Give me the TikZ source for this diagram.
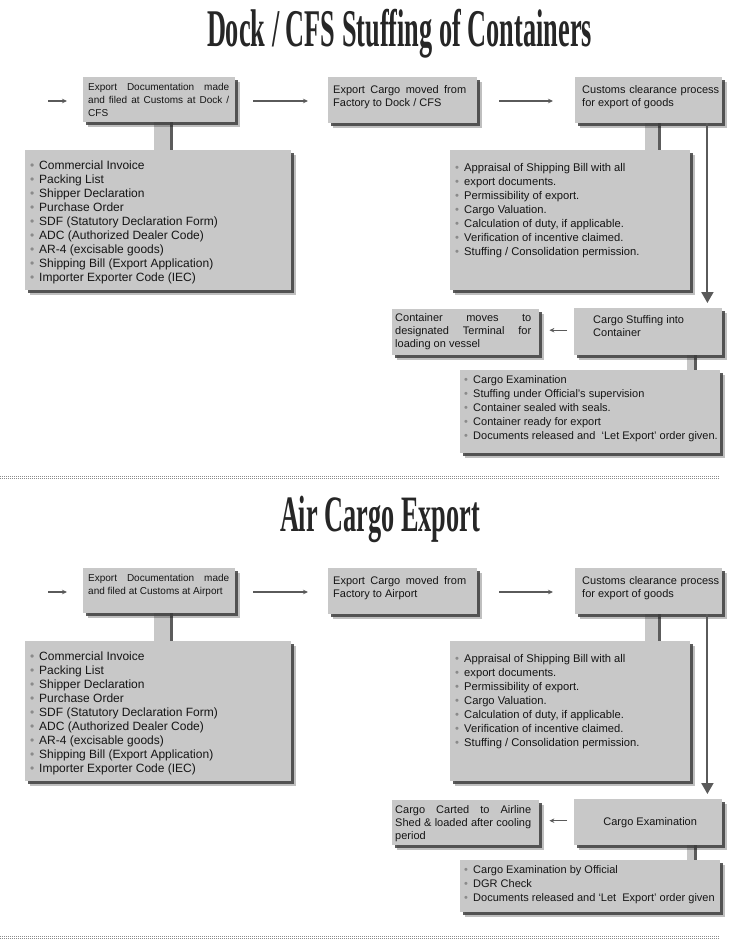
\documentclass[tikz,border=0pt]{standalone}
\usepackage{fontspec}
\setmainfont{Liberation Sans}
\newfontfamily\titlefont{Liberation Serif}
\usetikzlibrary{arrows.meta,shadows,calc}
\definecolor{boxc}{HTML}{C8C8C8}
\definecolor{txtc}{HTML}{151515}
\definecolor{arrc}{HTML}{5A5A5A}
\definecolor{bulc}{HTML}{8A8A8A}
\definecolor{titc}{HTML}{262626}
\definecolor{sepc}{HTML}{8C8C8C}
\pgfdeclarelayer{bg}
\pgfsetlayers{bg,main}
\newcommand\bx[6]{\parbox[c][#2pt][t]{#1pt}{\leftskip=#3pt\rightskip=#4pt\parfillskip=0pt plus 1fil\relax\vspace*{\dimexpr#5pt-\ht\strutbox\relax}\strut#6}}
\newcommand\bul{\makebox[9pt][l]{\textcolor{bulc}{\symbol{"2022}}}}
\newcommand\tA{\resizebox{385pt}{\height}{Dock / CFS Stuffing of Containers}}
\newcommand\tB{\resizebox{200pt}{\height}{Air Cargo Export}}
\newcommand\docs{\bul Commercial Invoice\\\bul Packing List\\\bul Shipper Declaration\\\bul Purchase Order\\\bul SDF (Statutory Declaration Form)\\\bul ADC (Authorized Dealer Code)\\\bul AR-4 (excisable goods)\\\bul Shipping Bill (Export Application)\\\bul Importer Exporter Code (IEC)}
\newcommand\cust{\bul Appraisal of Shipping Bill with all\\\bul export documents.\\\bul Permissibility of export.\\\bul Cargo Valuation.\\\bul Calculation of duty, if applicable.\\\bul Verification of incentive claimed.\\\bul Stuffing / Consolidation permission.}
\tikzset{
  shad/.style={drop shadow={shadow xshift=4.5pt, shadow yshift=-4.5pt, fill=black, opacity=.25},
               drop shadow={shadow xshift=3pt, shadow yshift=-3pt, fill=black!75, opacity=.85}},
  box/.style={anchor=north west, inner sep=0pt, fill=boxc, text=txtc, shad,
              font=\fontsize{11pt}{13.3pt}\selectfont},
  lst/.style={box, font=\fontsize{12pt}{14pt}\selectfont},
  bar/.style={fill=boxc, drop shadow={shadow xshift=3pt, shadow yshift=0pt, fill=black!75, opacity=.85}},
  harr/.style={draw=arrc, line width=1.3pt, -{Stealth[length=5pt,width=4.5pt]}},
  varr/.style={draw=arrc, line width=2pt, -{Triangle[length=11pt,width=12pt]}},
  sepl/.style={draw=sepc, line width=0.9pt, dash pattern=on 1pt off 1pt},
  ttl/.style={anchor=base, inner sep=0pt, text=titc, font=\titlefont\bfseries\fontsize{53pt}{53pt}\selectfont}
}
\begin{document}
\begin{tikzpicture}[x=1pt,y=-1pt]
\useasboundingbox (0,0) rectangle (730,947);
% ================= Section 1 =================
\node[ttl] (t1) at (399.5,47) {\tA};

\node[box, font=\fontsize{10pt}{13.3pt}\selectfont] (b1) at (83,77)
  {\bx{152}{45}{5}{6}{13}{Export Documentation made\linebreak and filed at Customs at Dock /\linebreak CFS}};
\node[box] (b2) at (328,77)
  {\bx{149}{46}{5}{11}{16}{Export Cargo moved from\linebreak Factory to Dock / CFS}};
\node[box] (b3) at (575,77)
  {\bx{147}{46}{7}{3}{16}{Customs clearance process\linebreak for export of goods}};
\node[lst] (l1) at (25,150) {\bx{266}{140}{5}{2}{19}{\docs}};
\node[lst, font=\fontsize{11.2pt}{14pt}\selectfont] (l2) at (450,150) {\bx{240}{140}{5}{2}{21}{\cust}};
\node[box] (b4) at (574,308)
  {\bx{148}{47}{19}{2}{15}{Cargo Stuffing into\\Container}};
\node[box] (b5) at (392,309)
  {\bx{147}{46}{3}{8}{12}{Container moves to\linebreak designated Terminal for\linebreak loading on vessel}};
\node[lst, font=\fontsize{11pt}{14pt}\selectfont] (l3) at (460,370)
  {\bx{260}{83}{4}{0}{13}{\bul Cargo Examination\\\bul Stuffing under Official's supervision\\\bul Container sealed with seals.\\\bul Container ready for export\\\bul Documents released and~~‘Let Export’ order given.}};

\begin{pgfonlayer}{bg}
\path (b1.south west) ++(71,0) coordinate (k1);
\fill[bar] (k1) rectangle ($(k1 |- l1.north)+(16,0)$);
\path (b3.south west) ++(70,0) coordinate (k2);
\fill[bar] (k2) rectangle ($(k2 |- l2.north)+(13,0)$);
\path (b4.south west) ++(113,0) coordinate (k3);
\fill[bar] (k3) rectangle ($(k3 |- l3.north)+(7,0)$);
\end{pgfonlayer}

\coordinate (s1) at (48,101);
\draw[harr] (s1) -- (b1.west |- s1) [shorten >=16pt];
\draw[harr, shorten <=18pt, shorten >=20pt] (b1.east |- s1) -- (b2.west |- s1);
\draw[harr, shorten <=22pt, shorten >=22pt] (b2.east |- s1) -- (b3.west |- s1);
\draw[varr, shorten >=5pt] ($(b3.south east)+(-15,0)$) -- ($(b4.north east)+(-15,0)$);
\draw[harr, shorten <=7pt, shorten >=10pt] ($(b4.west)+(0,-1.5)$) -- ($(b5.east |- b4.west)+(0,-1.5)$);

\draw[sepl] (0,476) -- (720,476);
\draw[sepl] (0,478.5) -- (720,478.5);

% ================= Section 2 =================
\node[ttl, font=\titlefont\bfseries\fontsize{51pt}{51pt}\selectfont] (t2) at (380,531) {\tB};

\node[box, font=\fontsize{10pt}{13.3pt}\selectfont] (c1) at (83,568)
  {\bx{152}{45}{5}{6}{13}{Export Documentation made\linebreak and filed at Customs at Airport}};
\node[box] (c2) at (328,568)
  {\bx{149}{46}{5}{11}{16}{Export Cargo moved from\linebreak Factory to Airport}};
\node[box] (c3) at (575,568)
  {\bx{147}{46}{7}{3}{16}{Customs clearance process\linebreak for export of goods}};
\node[lst] (m1) at (25,641) {\bx{266}{140}{5}{2}{19}{\docs}};
\node[lst, font=\fontsize{11.2pt}{14pt}\selectfont] (m2) at (450,641) {\bx{240}{140}{5}{2}{21}{\cust}};
\node[box] (c4) at (574,799)
  {\parbox[c][46pt][c]{148pt}{\centering\hspace*{4pt}Cargo Examination}};
\node[box] (c5) at (392,800)
  {\bx{147}{45}{3}{8}{13}{Cargo Carted to Airline\linebreak Shed \& loaded after cooling\linebreak period}};
\node[lst, font=\fontsize{11pt}{14pt}\selectfont] (m3) at (460,860)
  {\bx{260}{52}{4}{0}{13}{\bul Cargo Examination by Official\\\bul DGR Check\\\bul Documents released and ‘Let~~Export’ order given}};

\begin{pgfonlayer}{bg}
\path (c1.south west) ++(71,0) coordinate (k4);
\fill[bar] (k4) rectangle ($(k4 |- m1.north)+(16,0)$);
\path (c3.south west) ++(70,0) coordinate (k5);
\fill[bar] (k5) rectangle ($(k5 |- m2.north)+(13,0)$);
\path (c4.south west) ++(113,0) coordinate (k6);
\fill[bar] (k6) rectangle ($(k6 |- m3.north)+(7,0)$);
\end{pgfonlayer}

\coordinate (s2) at (48,592);
\draw[harr] (s2) -- (c1.west |- s2) [shorten >=16pt];
\draw[harr, shorten <=18pt, shorten >=20pt] (c1.east |- s2) -- (c2.west |- s2);
\draw[harr, shorten <=22pt, shorten >=22pt] (c2.east |- s2) -- (c3.west |- s2);
\draw[varr, shorten >=5pt] ($(c3.south east)+(-15,0)$) -- ($(c4.north east)+(-15,0)$);
\draw[harr, shorten <=7pt, shorten >=10pt] ($(c4.west)+(0,-1.5)$) -- ($(c5.east |- c4.west)+(0,-1.5)$);

\draw[sepl] (0,936) -- (720,936);
\draw[sepl] (0,938.5) -- (720,938.5);
\end{tikzpicture}
\end{document}
